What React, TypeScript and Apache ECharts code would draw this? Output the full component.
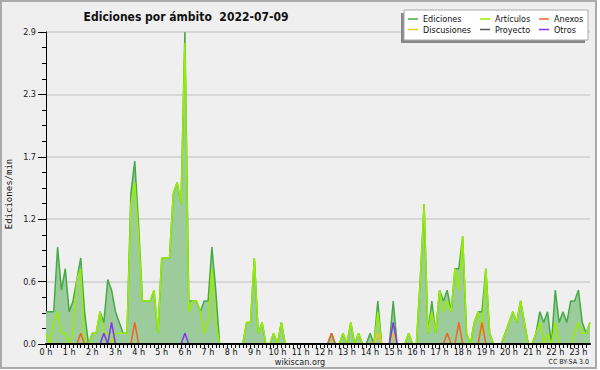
import React, { useEffect, useRef } from "react";
import * as echarts from "echarts";

// 10-minute intervals starting at 0:00 (index i -> i*10 minutes)
const STEP_MIN = 10;

const ediciones = [
  0.3, 0.3, 0.3, 0.9, 0.5, 0.7, 0.3, 0.4, 0.6, 0.8, 0.3, 0.0,
  0.1, 0.1, 0.3, 0.2, 0.6, 0.5, 0.3, 0.2, 0.1, 0.1, 1.4, 1.7,
  1.1, 0.4, 0.4, 0.4, 0.5, 0.1, 0.8, 0.8, 0.8, 1.4, 1.5, 1.3,
  2.9, 0.4, 0.4, 0.4, 0.3, 0.4, 0.4, 0.9, 0.5, 0, 0, 0,
  0, 0, 0, 0, 0.2, 0.2, 0.8, 0.1, 0.2, 0, 0, 0.1,
  0, 0.2, 0, 0, 0, 0, 0, 0, 0, 0, 0, 0,
  0, 0, 0.1, 0, 0, 0.1, 0, 0.2, 0, 0.1, 0, 0,
  0.1, 0, 0.4, 0, 0, 0, 0.4, 0, 0, 0, 0.1, 0,
  0, 0.6, 1.3, 0.1, 0.4, 0.1, 0.5, 0.4, 0.5, 0.3, 0.7, 0.7,
  1.0, 0.1, 0, 0.2, 0.3, 0.3, 0.7, 0.1, 0, 0, 0, 0.1,
  0.2, 0.3, 0.2, 0.4, 0.2, 0, 0, 0.1, 0.3, 0.2, 0.3, 0,
  0.5, 0.2, 0.3, 0.2, 0.4, 0.4, 0.5, 0.2, 0.1, 0.2,
];

const articulos = [
  0.1, 0, 0.2, 0.3, 0.1, 0.1, 0, 0.1, 0.6, 0.7, 0, 0,
  0.1, 0.1, 0.3, 0.1, 0.1, 0, 0.1, 0.1, 0.1, 0.1, 1.3, 1.5,
  1.0, 0.4, 0.4, 0.4, 0.5, 0.1, 0.8, 0.8, 0.8, 1.4, 1.5, 1.3,
  2.8, 0.3, 0.4, 0.4, 0.3, 0.1, 0.2, 0.7, 0.2, 0, 0, 0,
  0, 0, 0, 0, 0.2, 0.2, 0.8, 0.1, 0.2, 0, 0, 0.1,
  0, 0.2, 0, 0, 0, 0, 0, 0, 0, 0, 0, 0,
  0, 0, 0, 0, 0, 0.1, 0, 0.2, 0, 0.1, 0, 0,
  0, 0, 0.3, 0, 0, 0, 0.1, 0, 0, 0, 0.1, 0,
  0, 0.6, 1.3, 0.1, 0.3, 0.1, 0.5, 0.3, 0.4, 0.3, 0.7, 0.5,
  1.0, 0.1, 0, 0.2, 0.3, 0.1, 0.7, 0.1, 0, 0, 0, 0.1,
  0.2, 0.3, 0.2, 0.4, 0.2, 0, 0, 0.1, 0.2, 0, 0.1, 0,
  0.2, 0, 0, 0, 0, 0.1, 0.2, 0.1, 0.1, 0.2,
];

// sparse series: interval index -> value (all other intervals are 0)
const anexosIdx = [9, 23, 74, 104, 107, 113];
const anexosVal = [0.1, 0.2, 0.1, 0.1, 0.2, 0.2];
const discusionesIdx = [86, 90];
const discusionesVal = [0.1, 0.1];
const proyectoIdx: number[] = [];
const proyectoVal: number[] = [];
const otrosIdx = [15, 17, 36, 90];
const otrosVal = [0.1, 0.2, 0.1, 0.2];

const yTicks = ["0.0", "0.6", "1.2", "1.7", "2.3", "2.9"];
const Y_MAX = 2.9;
const X_MAX_MIN = 1410;

const SANS = "'DejaVu Sans Condensed', 'DejaVu Sans', sans-serif";
const MONO = "'DejaVu Sans Mono', monospace";

function fromSparse(idx: number[], vals: number[]) {
  const a: number[] = new Array(ediciones.length).fill(0);
  idx.forEach((k, j) => {
    a[k] = vals[j];
  });
  return a;
}

function toPoints(arr: number[]) {
  return arr.map((v, i) => [i * STEP_MIN, v]);
}

export default function App() {
  const ref = useRef<HTMLDivElement>(null);

  useEffect(() => {
    document.body.style.margin = "0";
    const chart = echarts.init(ref.current!, null, { renderer: "svg" });

    const lineSeries = (name: string, data: number[], color: string, z: number, extra: any = {}) => ({
      name,
      type: "line",
      data: toPoints(data),
      color,
      symbol: "none",
      showSymbol: false,
      lineStyle: { color, width: 1.5 },
      z,
      ...extra,
    });

    const legendBase = {
      orient: "vertical",
      top: 14,
      padding: 0,
      itemWidth: 10,
      itemHeight: 1.5,
      itemGap: 0.5,
      icon: "rect",
      selectedMode: false,
      z: 6,
      textStyle: { fontFamily: SANS, fontSize: 9, color: "#111", lineHeight: 10 },
    };

    chart.setOption({
      animation: false,
      backgroundColor: "#ffffff",
      grid: { left: 46, right: 10, top: 32, bottom: 26 },
      legend: [
        { ...legendBase, left: 408, data: ["Ediciones", "Discusiones"] },
        { ...legendBase, left: 480, data: ["Artículos", "Proyecto"] },
        { ...legendBase, left: 539, data: ["Anexos", "Otros"] },
      ],
      xAxis: {
        type: "value",
        min: 0,
        max: X_MAX_MIN,
        interval: STEP_MIN,
        z: 5,
        axisLine: { show: true, lineStyle: { color: "#000", width: 2 } },
        axisTick: { show: true, length: 4, lineStyle: { color: "#000", width: 1 } },
        splitLine: { show: false },
        axisLabel: {
          fontFamily: SANS,
          fontSize: 9,
          color: "#111",
          margin: 3,
          showMaxLabel: false,
          formatter: (v: number) => (v % 60 === 0 ? `${v / 60} h` : ""),
        },
      },
      yAxis: {
        type: "value",
        min: 0,
        max: Y_MAX,
        interval: Y_MAX / 5,
        axisLine: { show: true, lineStyle: { color: "#000", width: 1 } },
        axisTick: { show: true, length: 8, lineStyle: { color: "#000" } },
        minorTick: { show: true, splitNumber: 4, length: 4, lineStyle: { color: "#000" } },
        splitLine: { show: true, lineStyle: { color: "#cfcfcf", width: 1.5 } },
        axisLabel: {
          fontFamily: SANS,
          fontSize: 9,
          color: "#222",
          margin: 10,
          formatter: (v: number) => {
            const k = Math.round(v / (Y_MAX / 5));
            return yTicks[k] ?? "";
          },
        },
      },
      series: [
        lineSeries("Ediciones", ediciones, "#44aa44", 2, {
          areaStyle: { color: "#9ccb9c", opacity: 1 },
        }),
        lineSeries("Artículos", articulos, "#99ee00", 3),
        lineSeries("Anexos", fromSparse(anexosIdx, anexosVal), "#ee6622", 3),
        lineSeries("Discusiones", fromSparse(discusionesIdx, discusionesVal), "#eec822", 3),
        lineSeries("Proyecto", fromSparse(proyectoIdx, proyectoVal), "#555555", 3),
        lineSeries("Otros", fromSparse(otrosIdx, otrosVal), "#8833ee", 3),
      ],
      graphic: [
        {
          type: "rect",
          z: -10,
          silent: true,
          shape: { x: 1, y: 1, width: 595, height: 367 },
          style: { fill: "#efeff0", stroke: "#aaaaaa", lineWidth: 2 },
        },
        {
          type: "text",
          z: 5,
          x: 186,
          y: 17,
          style: {
            text: "Ediciones por ámbito  2022-07-09",
            font: `bold 12px ${SANS}`,
            fill: "#111",
            textAlign: "center",
            textVerticalAlign: "middle",
          },
        },
        {
          type: "text",
          z: 5,
          x: 9,
          y: 194,
          rotation: Math.PI / 2,
          style: {
            text: "Ediciones/min",
            font: `9px ${MONO}`,
            fill: "#111",
            textAlign: "center",
            textVerticalAlign: "middle",
          },
        },
        {
          type: "rect",
          z: 4,
          silent: true,
          shape: { x: 401, y: 13, width: 184, height: 30 },
          style: { fill: "#888888" },
        },
        {
          type: "rect",
          z: 5,
          silent: true,
          shape: { x: 404, y: 10, width: 184, height: 30 },
          style: { fill: "#ffffff", stroke: "#aaaaaa", lineWidth: 1 },
        },
        {
          type: "text",
          z: 5,
          x: 300,
          y: 362,
          style: {
            text: "wikiscan.org",
            font: `9px ${SANS}`,
            fill: "#222",
            textAlign: "center",
            textVerticalAlign: "middle",
          },
        },
        {
          type: "text",
          z: 5,
          x: 589,
          y: 362,
          style: {
            text: "CC BY-SA 3.0",
            font: `7px ${SANS}`,
            fill: "#222",
            textAlign: "right",
            textVerticalAlign: "middle",
          },
        },
      ],
    });

    return () => chart.dispose();
  }, []);

  return <div ref={ref} style={{ width: 600, height: 370 }} />;
}
